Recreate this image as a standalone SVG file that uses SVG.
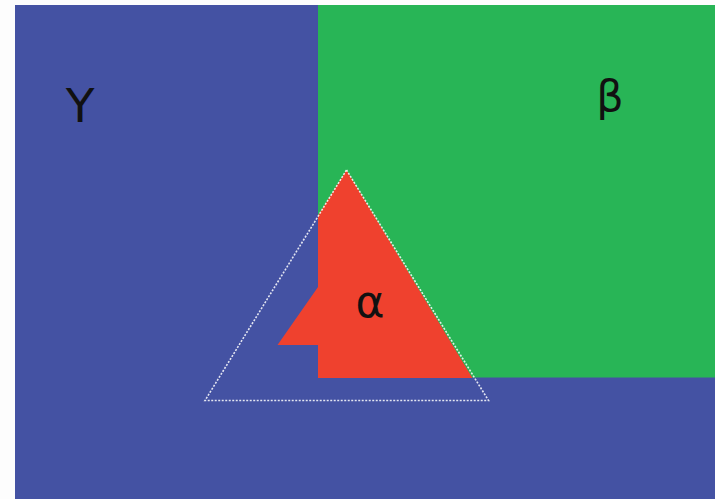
<svg xmlns="http://www.w3.org/2000/svg" width="715" height="499" viewBox="0 0 715 499">
<style>
.lbl{font-family:"DejaVu Sans","Noto Sans",sans-serif;fill:#111;text-anchor:middle}
.dot{fill:none;stroke:#fff;stroke-width:1.6;stroke-dasharray:2 1.5;opacity:0.85}
</style>
<rect width="715" height="499" fill="#fdfdfd"/>
<g id="gamma">
<rect x="15" y="5" width="700" height="494" fill="#4452a3"/>
<text class="lbl" x="80" y="122" font-size="47">Υ</text>
</g>
<g id="beta">
<rect x="318" y="5" width="397" height="372.5" fill="#28b556"/>
<text class="lbl" x="610" y="111" font-size="43">β</text>
</g>
<g id="alpha">
<polygon points="346.5,170 472.5,378 318,378 318,345 277.5,345 318,287 318,215.5" fill="#ef412e"/>
<text class="lbl" x="370" y="317" font-size="44">α</text>
</g>
<g id="connectors">
<polygon class="dot" points="346.5,170 488.5,400.5 205,400.5"/>
</g>
</svg>
